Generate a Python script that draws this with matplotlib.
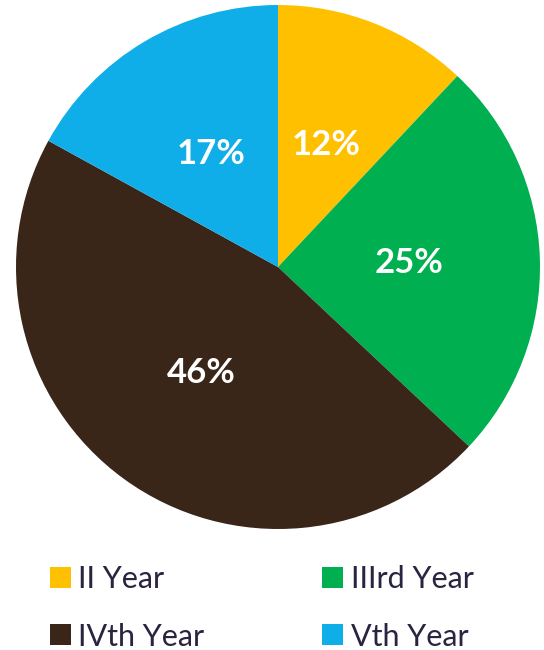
import matplotlib.pyplot as plt
from matplotlib.patches import Patch

# Data
labels = ["II Year", "IIIrd Year", "IVth Year", "Vth Year"]
shares = [12, 25, 46, 17]
colors = ["#FFC000", "#00B050", "#3A2619", "#0FAEE8"]

TEXT_DARK = "#2B2440"

plt.rcParams["font.family"] = ["Lato", "DejaVu Sans"]

fig = plt.figure(figsize=(5.44, 6.5), dpi=100)
fig.patch.set_facecolor("white")

# pie centred at ~(278, 267) px, radius ~262 px
ax = fig.add_axes([16 / 544, 121 / 650, 524 / 544, 524 / 650])
wedges, texts, autotexts = ax.pie(
    shares, colors=colors, startangle=90, counterclock=False,
    autopct="%d%%", pctdistance=0.5,
    wedgeprops={"linewidth": 0},
    textprops={"color": "white", "fontsize": 25, "fontweight": "bold"},
)
ax.set_xlim(-1, 1)
ax.set_ylim(-1, 1)
ax.set_aspect("equal")

# legend in row-major order
handles = [Patch(facecolor=c, edgecolor="none") for c in colors]
order = [0, 2, 1, 3]
leg = fig.legend(
    [handles[i] for i in order], [labels[i] for i in order],
    ncol=2, loc="center left", bbox_to_anchor=(50 / 544, 1 - 608 / 650),
    frameon=False, fontsize=22, handlelength=0.68, handleheight=0.68,
    handletextpad=0.25, columnspacing=3.85, labelspacing=0.95,
    borderaxespad=0, borderpad=0,
)
for t in leg.get_texts():
    t.set_color(TEXT_DARK)

fig.savefig("out.png", dpi=100, facecolor="white")
